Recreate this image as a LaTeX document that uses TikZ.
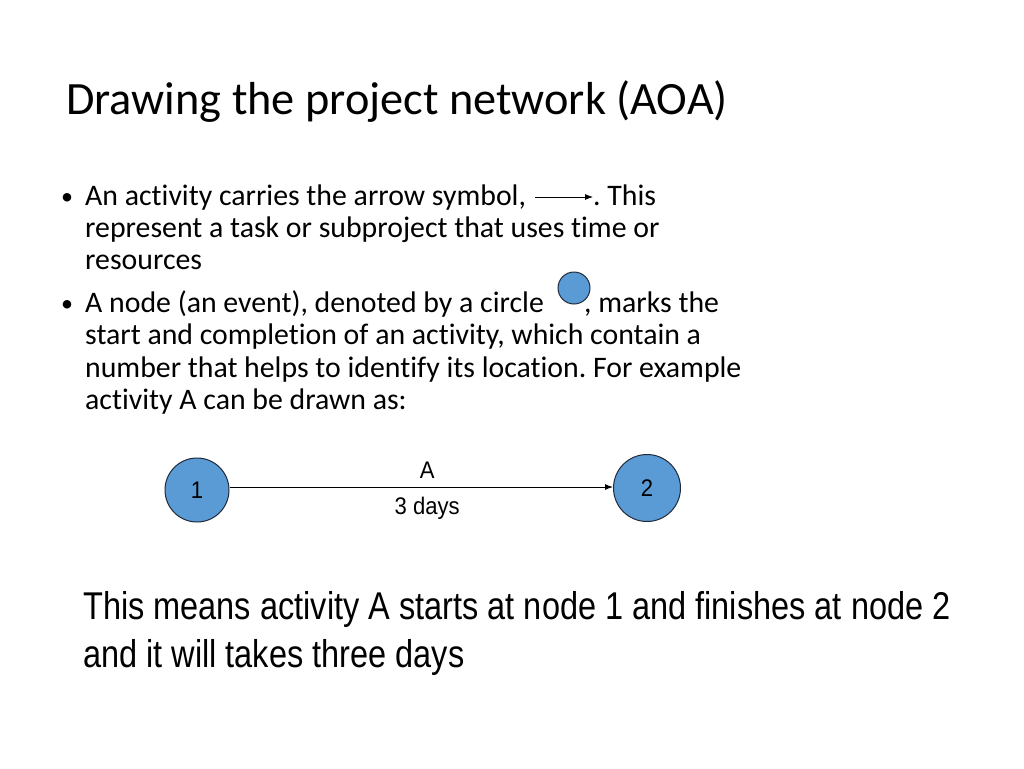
\documentclass[tikz,border=0pt]{standalone}
\usepackage{fontspec}
\setmainfont{Carlito}[Ligatures=NoCommon]
\newfontfamily\narrowfont[FakeStretch=0.84]{Liberation Sans}
\newfontfamily\labelfont[FakeStretch=0.92]{Liberation Sans}
\usetikzlibrary{positioning,arrows.meta}

\definecolor{eventblue}{HTML}{5B9BD5}
\definecolor{eventline}{HTML}{1F2A3A}

\tikzset{
  event/.style={circle, draw=eventline, fill=eventblue, line width=1pt,
    minimum size=64pt, inner sep=0pt, font=\labelfont\fontsize{24}{24}\selectfont},
  activity/.style={-{Latex[length=8pt,width=6pt]}, line width=1pt},
  line/.style={anchor=base west, inner sep=0pt, font=\fontsize{29.8}{29.8}\selectfont},
  lbl/.style={inner sep=0pt, font=\labelfont\fontsize{24}{24}\selectfont},
  note/.style={anchor=base west, inner sep=0pt, font=\narrowfont\fontsize{38.7}{38.7}\selectfont}
}

\begin{document}
\frenchspacing
\begin{tikzpicture}[x=1pt,y=-1pt]

  % page frame
  \useasboundingbox[fill=white] (0,0) rectangle (1024,768);

  % title
  \node[anchor=base west, inner sep=0pt, font=\fontsize{46.3}{46.3}\selectfont]
    (title) at (66,114) {Drawing the project network (AOA)};

  % first bullet
  \node[line, font=\fontsize{24}{24}\selectfont] (bulA) at (61,204) {•};
  \node[line] (a1) at (85,205) {An activity carries the arrow symbol,};
  \coordinate (symtail) at (535,197);
  \coordinate (symhead) at (593,197);
  \draw[activity, line width=0.8pt] (symtail) -- (symhead);
  \node[line] (a1b) at (593,205) {. This};
  \node[line] (a2) at (85,237) {represent a task or subproject that uses time or};
  \node[line] (a3) at (85,269) {resources};

  % second bullet
  \node[line, font=\fontsize{24}{24}\selectfont] (bulB) at (61,311) {•};
  \node[line] (b1) at (85,312) {A node (an event), denoted by a circle};
  \node[event, minimum size=32pt] (symevent) at (574,288) {};
  \node[line] (b1b) at (584,312) {, marks the};
  \node[line] (b2) at (85,344) {start and completion of an activity, which contain a};
  \node[line] (b3) at (85,377) {number that helps to identify its location. For example};
  \node[line] (b4) at (85,409) {activity A can be drawn as:};

  % network
  \node[event] (n1) at (197,490) {1};
  \node[event, minimum size=67pt] (n2) at (647,488) {2};
  \draw[activity] (n1.east |- 0,487) -- (n2.west |- 0,487)
    node[midway, above=8pt, xshift=6pt, lbl] (actA) {A}
    node[midway, below=10pt, xshift=6pt, lbl] (actT) {3 days};

  % explanation
  \node[note] (note1) at (83,619)
    {This means activity A starts at node 1 and finishes at node 2};
  \node[note] (note2) at (83,667) {and it will takes three days};

\end{tikzpicture}
\end{document}
